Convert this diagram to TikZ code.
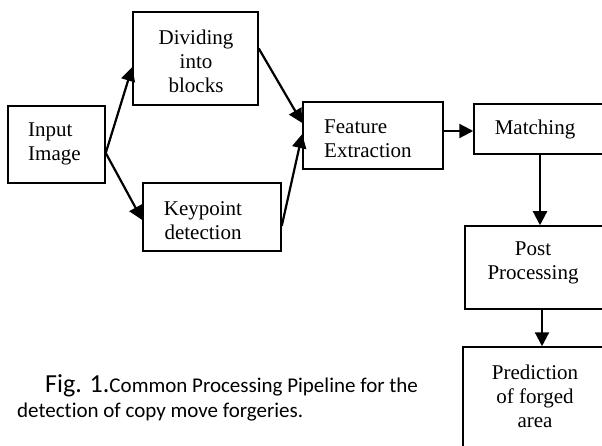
\documentclass[tikz,border=0pt]{standalone}
\usepackage{fontspec}
\setmainfont{Liberation Serif}
\newfontfamily\capfont[Ligatures=NoCommon]{Carlito}
\usetikzlibrary{arrows.meta}
\begin{document}
\begin{tikzpicture}[x=1pt,y=-1pt,
  box/.style={draw,line width=1.5pt,inner sep=0pt,minimum width=#1},
  boxtext/.style={font=\fontsize{21}{24}\selectfont,inner sep=0pt},
  arr/.style={line width=2.2pt,-{Triangle[length=14pt,width=14pt]}}]
\useasboundingbox (0,0) rectangle (602,446);
\clip (0,0) rectangle (602,446);
% boxes
\node[box=97pt,minimum height=77pt] (inp) at (56.5,144.5) {};
\node[box=125pt,minimum height=93pt] (div) at (195.5,58.5) {};
\node[box=138pt,minimum height=68pt] (key) at (212,217) {};
\node[box=140pt,minimum height=67pt] (fe) at (373,135.5) {};
\node[box=136pt,minimum height=50pt] (mat) at (542,129) {};
\node[box=145pt,minimum height=83pt] (post) at (537.5,267.5) {};
\node[box=147pt,minimum height=113pt] (pred) at (536.5,403.5) {};
% texts
\node[boxtext,align=left,anchor=west] (tinp) at (28,143.5) {Input\\Image};
\node[boxtext,align=center] (tdiv) at (196,61) {Dividing\\into\\blocks};
\node[boxtext,align=center] (tkey) at (203,221) {Keypoint\\detection};
\node[boxtext,align=left,anchor=west] (tfe) at (324,138.5) {Feature\\Extraction};
\node[boxtext,align=center] (tmat) at (535,129) {Matching};
\node[boxtext,align=center] (tpost) at (533,263) {Post\\Processing};
\node[boxtext,align=center] (tpred) at (535,396) {Prediction\\of forged\\area};
% connectors
\draw[arr] ([yshift=-8.5pt]inp.east) -- ([yshift=-8.5pt]div.west);
\draw[arr] ([yshift=-8.5pt]inp.east) -- ([yshift=-3pt]key.west);
\draw[arr] ([yshift=10pt]div.east) -- ([yshift=12.5pt]fe.west);
\draw[arr] ([yshift=-9pt]key.east) -- ([yshift=1.5pt]fe.west);
\draw[arr] ([yshift=4.5pt]fe.east) -- ([yshift=-2pt]mat.west);
\draw[arr] ([xshift=-2pt]mat.south) -- ([xshift=2.5pt]post.north);
\draw[arr] ([xshift=4.5pt]post.south) -- ([xshift=5.5pt]pred.north);
% caption
\node[font=\capfont,inner sep=0pt,anchor=base west] (cap1) at (45,392)
  {{\fontsize{26}{30}\selectfont Fig. 1.}{\fontsize{21}{25}\selectfont Common Processing Pipeline for the}};
\node[font=\capfont\fontsize{21}{25}\selectfont,inner sep=0pt,anchor=base west] (cap2) at (17,417)
  {detection of copy move forgeries.};
\end{tikzpicture}
\end{document}
